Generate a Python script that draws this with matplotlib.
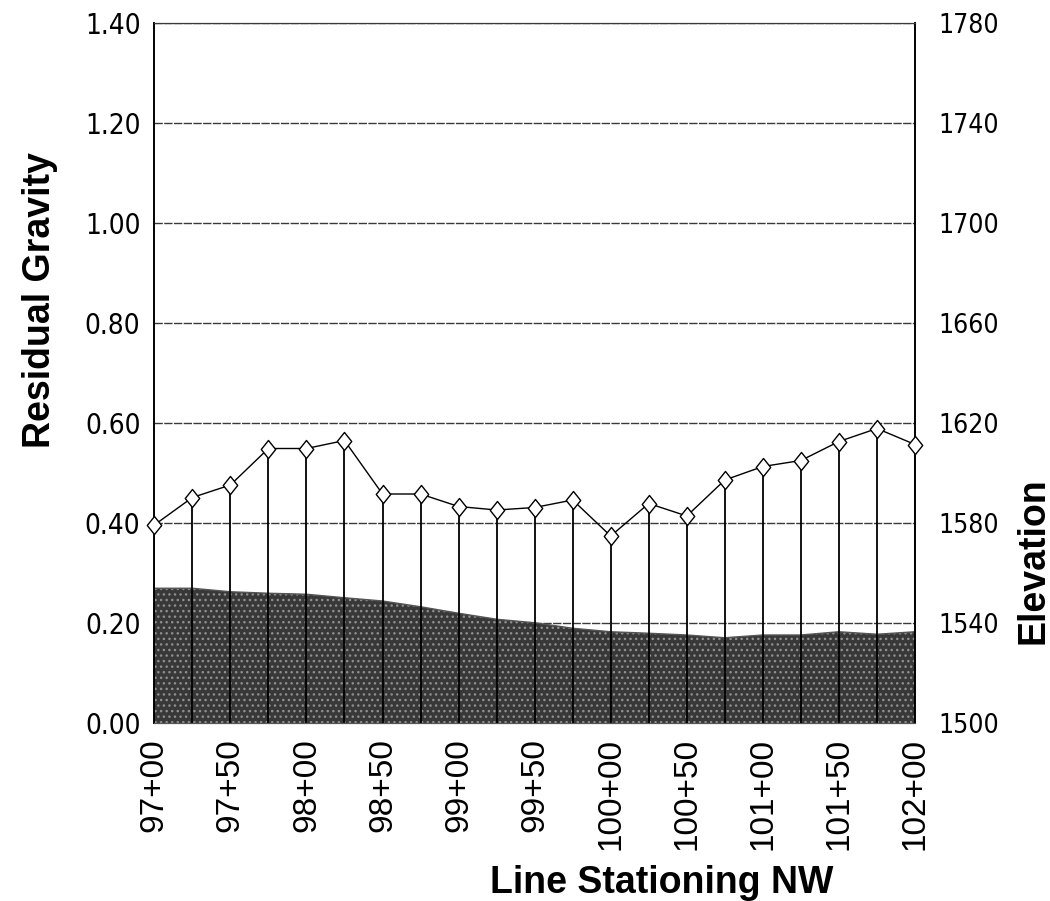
import matplotlib
matplotlib.use("Agg")
import matplotlib.pyplot as plt
from matplotlib import font_manager
from matplotlib.font_manager import FontProperties
from matplotlib.path import Path

# ---- data ----
stations = [9700, 9725, 9750, 9775, 9800, 9825, 9850, 9875, 9900, 9925, 9950,
            9975, 10000, 10025, 10050, 10075, 10100, 10125, 10150, 10175, 10200]
residual_gravity = [0.396, 0.451, 0.476, 0.549, 0.549, 0.565, 0.458, 0.458, 0.433,
                    0.426, 0.431, 0.446, 0.374, 0.439, 0.414, 0.486, 0.513, 0.525,
                    0.563, 0.589, 0.557]
elevation = [1553.9, 1553.9, 1552.5, 1551.9, 1551.5, 1550.1, 1548.8, 1546.5, 1543.9,
             1541.5, 1540.1, 1537.9, 1536.5, 1535.9, 1535.2, 1534.1, 1535.2, 1535.2,
             1536.5, 1535.5, 1536.5]
xtick_pos = [9700, 9750, 9800, 9850, 9900, 9950, 10000, 10050, 10100, 10150, 10200]
xtick_labels = ["97+00", "97+50", "98+00", "98+50", "99+00", "99+50",
                "100+00", "100+50", "101+00", "101+50", "102+00"]
grav_ticks = [0.0, 0.2, 0.4, 0.6, 0.8, 1.0, 1.2, 1.4]
grav_labels = ["0.00", "0.20", "0.40", "0.60", "0.80", "1.00", "1.20", "1.40"]
elev_ticks = [1500, 1540, 1580, 1620, 1660, 1700, 1740, 1780]
elev_labels = ["1500", "1540", "1580", "1620", "1660", "1700", "1740", "1780"]

names = {f.name for f in font_manager.fontManager.ttflist}
base = "Liberation Sans" if "Liberation Sans" in names else "DejaVu Sans"
plt.rcParams['font.family'] = [base, 'DejaVu Sans']

# look for a condensed / narrow regular face for the y tick labels
narrow_file = None
for pref in ("liberationsansnarrow-regular", "arialn", "dejavusanscondensed.",
             "robotocondensed-regular", "opensans_condensed", "condensed-regular"):
    for f in font_manager.fontManager.ttflist:
        fn = f.fname.lower().replace(" ", "")
        if pref in fn.split("/")[-1]:
            narrow_file = f.fname
            break
    if narrow_file:
        break
if narrow_file:
    ytick_fp_l = FontProperties(fname=narrow_file, size=20)
    ytick_fp_r = FontProperties(fname=narrow_file, size=19)
else:
    ytick_fp_l = FontProperties(family=base, size=19)
    ytick_fp_r = FontProperties(family=base, size=18)

fig = plt.figure(figsize=(10.5, 9.01), dpi=100)
ax = fig.add_axes([154.3 / 1050, 1 - 723 / 901, (915 - 154.3) / 1050, 700 / 901])
ax2 = ax.twinx()

# elevation profile (behind)
ax2.set_ylim(1500, 1780)
ax2.set_yticks(elev_ticks)
ax2.set_yticklabels(elev_labels)
for t in ax2.get_yticklabels():
    t.set_fontproperties(ytick_fp_r)
ax2.grid(axis='y', color='#3a3a3a', lw=1.0, ls=(0, (6, 1)), zorder=0)
ax2.fill_between(stations, 1500, elevation, facecolor='#383838', edgecolor='#8f8f8f',
                 hatch='...', lw=0, zorder=2)
ax2.plot(stations, elevation, color='#555555', lw=1.0, zorder=3)
ax2.tick_params(axis='y', length=0, pad=17)

# gravity on top
ax.set_zorder(ax2.get_zorder() + 1)
ax.patch.set_visible(False)
ax.set_xlim(9700, 10200)
ax.set_ylim(0, 1.4)
ax.set_yticks(grav_ticks)
ax.set_yticklabels(grav_labels)
for t in ax.get_yticklabels():
    t.set_fontproperties(ytick_fp_l)
ax.set_xticks(xtick_pos)
ax.set_xticklabels(xtick_labels, rotation=90, fontsize=24)
ax.tick_params(axis='y', length=0, pad=10)
ax.tick_params(axis='x', length=0, pad=11)

ax.vlines(stations, 0, residual_gravity, colors='black', lw=1.3, zorder=4)
diamond = Path([(0, 1), (0.8, 0), (0, -1), (-0.8, 0), (0, 1)],
               [Path.MOVETO, Path.LINETO, Path.LINETO, Path.LINETO, Path.CLOSEPOLY])
ax.plot(stations, residual_gravity, color='black', lw=1.0, marker=diamond,
        markersize=13, markerfacecolor='white', markeredgecolor='black',
        markeredgewidth=1.0, zorder=5, clip_on=False)

for a in (ax, ax2):
    for s in ('left', 'right'):
        a.spines[s].set_color('black')
        a.spines[s].set_linewidth(1.2)
    a.spines['top'].set_color('#3a3a3a')
    a.spines['bottom'].set_color('#555555')

fig.text(40 / 1050, 1 - 300 / 901, "Residual Gravity", rotation=90, fontsize=27,
         fontweight='bold', ha='center', va='center')
fig.text(1034 / 1050, 1 - 561 / 901, "Elevation", rotation=90, fontsize=27,
         fontweight='bold', ha='center', va='center')
fig.text(662 / 1050, 8 / 901, "Line Stationing NW", fontsize=27,
         fontweight='bold', ha='center', va='baseline')

fig.savefig("out.png", dpi=100)
